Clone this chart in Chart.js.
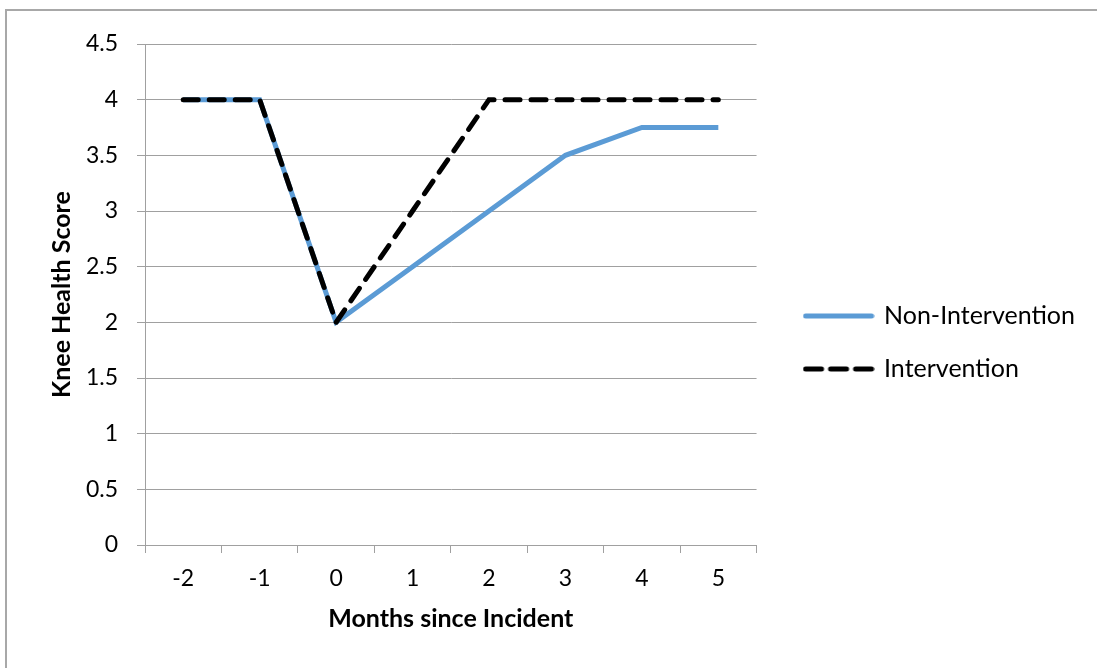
<!DOCTYPE html>
<html>
<head>
<meta charset="utf-8">
<title>Knee Health Score</title>
<script src="https://cdn.jsdelivr.net/npm/chart.js@4"></script>
<style>
  body { margin: 0; background: #fff; }
  #moldura {
    position: absolute; left: 5px; top: 9px; width: 1200px; height: 800px;
    border-left: 2px solid #a8a8a8; border-top: 2px solid #a8a8a8;
  }
  #grafico { position: absolute; left: 0; top: 0; }
</style>
</head>
<body>
<div id="moldura"></div>
<canvas id="grafico" width="1097" height="668"></canvas>
<script>
// meses desde o incidente (eixo X)
const meses = ['-2', '-1', '0', '1', '2', '3', '4', '5'];
// pontuação de saúde do joelho por grupo
const semIntervencao = [4, 4, 2, 2.5, 3, 3.5, 3.75, 3.75];
const comIntervencao = [4, 4, 2, 3, 4, 4, 4, 4];
// escala do eixo Y
const yMin = 0;
const yMax = 4.5;
const yPasso = 0.5;

Chart.defaults.font.family = 'Lato, "Open Sans", sans-serif';
Chart.defaults.font.size = 23;
Chart.defaults.color = '#000';

const corGrade = '#a0a0a0';
const fonteTitulo = { size: 25, weight: 'bold' };
const larguraAmostra = 66; // comprimento do traço na legenda

// desenha a amostra de linha usada na legenda
function amostraLinha(cor, tracejado) {
    const c = document.createElement('canvas');
    c.width = larguraAmostra + 6;
    c.height = 8;
    const g = c.getContext('2d');
    g.strokeStyle = cor;
    g.lineWidth = 5;
    g.lineCap = 'round';
    if (tracejado) g.setLineDash([16, 9]);
    g.beginPath();
    g.moveTo(3, 4);
    g.lineTo(3 + larguraAmostra, 4);
    g.stroke();
    return c;
}

const contexto = document.getElementById('grafico').getContext('2d');
new Chart(contexto, {
    type: 'line',
    data: {
        labels: meses,
        datasets: [
            {
                label: 'Non-Intervention',
                data: semIntervencao,
                borderColor: '#5b9bd5',
                backgroundColor: '#5b9bd5',
                borderWidth: 5,
                pointRadius: 0,
                tension: 0,
                order: 1 // fica por baixo da linha tracejada
            },
            {
                label: 'Intervention',
                data: comIntervencao,
                borderColor: '#000',
                backgroundColor: '#000',
                borderWidth: 5,
                borderDash: [15, 11],
                borderCapStyle: 'round',
                pointRadius: 0,
                tension: 0,
                order: 0
            }
        ]
    },
    options: {
        responsive: false,
        animation: false,
        layout: {
            padding: { top: 44, bottom: 27, left: 0, right: 12 }
        },
        scales: {
            x: {
                type: 'category',
                offset: true,
                grid: {
                    offset: true,
                    drawOnChartArea: false,
                    drawTicks: true,
                    tickLength: 8,
                    color: corGrade
                },
                border: { color: corGrade },
                ticks: { padding: 12, maxRotation: 0 },
                title: {
                    display: true,
                    text: 'Months since Incident',
                    font: fonteTitulo,
                    padding: { top: 0, bottom: 7 }
                },
                afterFit: (eixo) => { eixo.height = 96; }
            },
            y: {
                min: yMin,
                max: yMax,
                ticks: {
                    stepSize: yPasso,
                    padding: 19,
                    callback: (valor) => String(valor)
                },
                grid: { color: corGrade, tickLength: 8 },
                border: { color: corGrade },
                title: {
                    display: true,
                    text: 'Knee Health Score',
                    font: fonteTitulo,
                    padding: { top: 47, bottom: 0 }
                },
                afterFit: (eixo) => { eixo.width = 145; }
            },
            // espaço vazio entre a área do gráfico e a legenda
            y2: {
                position: 'right',
                grid: { display: false },
                border: { display: false },
                ticks: { display: false },
                afterFit: (eixo) => { eixo.width = 21; }
            }
        },
        plugins: {
            legend: {
                position: 'right',
                maxWidth: 400,
                labels: {
                    font: { size: 25 },
                    usePointStyle: true,
                    pointStyleWidth: larguraAmostra,
                    padding: 28,
                    sort: (a, b) => a.datasetIndex - b.datasetIndex,
                    generateLabels: (grafico) => {
                        const itens = Chart.defaults.plugins.legend.labels.generateLabels(grafico);
                        itens.forEach((item) => {
                            const ds = grafico.data.datasets[item.datasetIndex];
                            item.pointStyle = amostraLinha(ds.borderColor, !!ds.borderDash);
                        });
                        return itens;
                    }
                }
            },
            tooltip: { enabled: false }
        }
    }
});
</script>
</body>
</html>
